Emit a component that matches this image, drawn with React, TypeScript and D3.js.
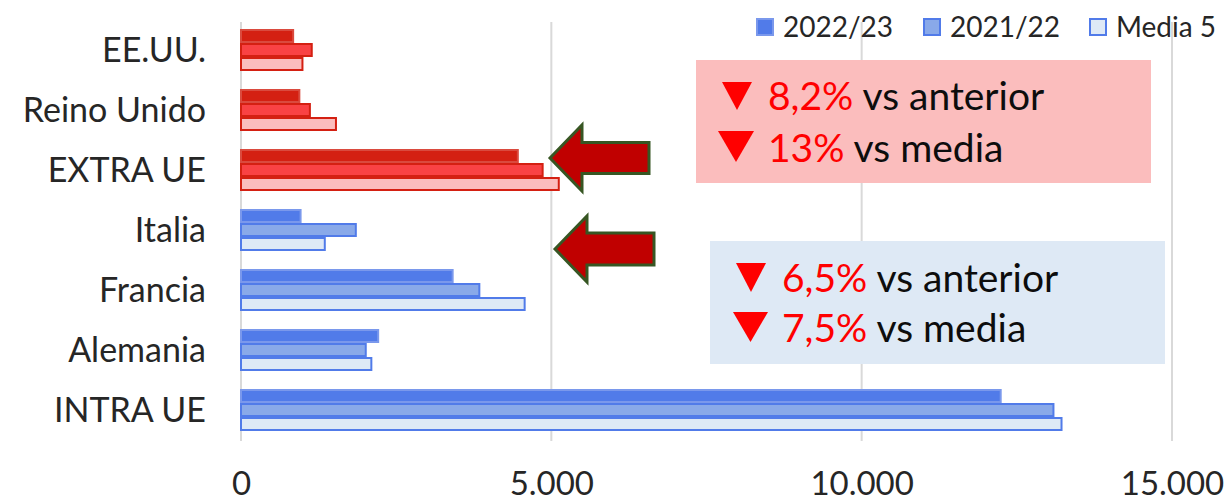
import React, { useRef, useEffect } from "react";
import * as d3 from "d3";

// categories top to bottom
const categories = ["EE.UU.", "Reino Unido", "EXTRA UE", "Italia", "Francia", "Alemania", "INTRA UE"];
const extraUe = ["EE.UU.", "Reino Unido", "EXTRA UE"];

const series = ["2022/23", "2021/22", "Media 5"];
const v2223 = [840, 940, 4460, 960, 3410, 2210, 12240];
const v2122 = [1140, 1110, 4860, 1850, 3840, 2010, 13090];
const media5 = [990, 1530, 5120, 1350, 4570, 2100, 13220];

const xTicks = [0, 5000, 10000, 15000];

const noteExtra = [
  { pct: "8,2%", txt: " vs anterior" },
  { pct: "13%", txt: " vs media" },
];
const noteIntra = [
  { pct: "6,5%", txt: " vs anterior" },
  { pct: "7,5%", txt: " vs media" },
];

const FONT = "Lato, 'Noto Sans', sans-serif";

// fill / stroke per series, red for extra-UE, blue for intra-UE
const redFill = ["#D42012", "#F94244", "#FBBDBD"];
const redStroke = ["#DA4A3E", "#D42012", "#D42012"];
const blueFill = ["#517BE9", "#89A9E9", "#DEE9F6"];
const blueStroke = ["#7A98EC", "#517BE9", "#517BE9"];

const App: React.FC = () => {
  const svgRef = useRef<SVGSVGElement | null>(null);

  const width = 1229;
  const height = 504;

  useEffect(() => {
    if (!svgRef.current) return;
    const svg = d3.select(svgRef.current);
    svg.selectAll("*").remove();

    const x = d3.scaleLinear().domain([0, 15000]).range([241, 1172]);
    const y = d3.scaleBand<string>().domain(categories).range([20, 440]).paddingInner(0.3).paddingOuter(0.15);
    const sub = d3.scaleBand<number>().domain([0, 1, 2]).range([0, y.bandwidth()]);

    const esLocale = d3.formatLocale({ decimal: ",", thousands: ".", grouping: [3], currency: ["", " €"] });
    const fmt = esLocale.format(",.0f");

    // grid
    svg.append("g")
      .selectAll("line")
      .data(xTicks)
      .join("line")
      .attr("x1", (d) => x(d))
      .attr("x2", (d) => x(d))
      .attr("y1", 22)
      .attr("y2", 441)
      .attr("stroke", "#D9D9D9")
      .attr("stroke-width", 2);

    // bars
    const rows = categories.map((c, i) => ({ c, vals: [v2223[i], v2122[i], media5[i]] }));
    const g = svg.append("g");
    rows.forEach((r) => {
      const isRed = extraUe.includes(r.c);
      r.vals.forEach((v, k) => {
        g.append("rect")
          .attr("x", x(0))
          .attr("y", (y(r.c) as number) + (sub(k) as number) + 1)
          .attr("width", x(v) - x(0))
          .attr("height", sub.bandwidth() - 2)
          .attr("fill", isRed ? redFill[k] : blueFill[k])
          .attr("stroke", isRed ? redStroke[k] : blueStroke[k])
          .attr("stroke-width", 2);
      });
    });

    // category labels
    svg.append("g")
      .selectAll("text")
      .data(categories)
      .join("text")
      .attr("x", 206)
      .attr("y", (d) => (y(d) as number) + y.bandwidth() / 2)
      .attr("dy", "0.36em")
      .attr("text-anchor", "end")
      .attr("font-family", FONT)
      .attr("font-size", 34)
      .attr("fill", "#262626")
      .text((d) => d);

    // x axis labels
    const xAxis = d3.axisBottom(x).tickValues(xTicks).tickSize(0).tickPadding(0).tickFormat((d) => fmt(d as number));
    const ax = svg.append("g").attr("transform", "translate(0,495)").call(xAxis);
    ax.select(".domain").remove();
    ax.selectAll("text")
      .attr("font-family", FONT)
      .attr("font-size", 33)
      .attr("fill", "#262626")
      .attr("dy", "0");

    // legend
    const legX = [756, 923, 1089];
    const lg = svg.append("g");
    series.forEach((s, k) => {
      lg.append("rect")
        .attr("x", legX[k] + 1)
        .attr("y", 19)
        .attr("width", 16)
        .attr("height", 16)
        .attr("fill", blueFill[k])
        .attr("stroke", blueStroke[k])
        .attr("stroke-width", 2);
      lg.append("text")
        .attr("x", legX[k] + 27)
        .attr("y", 37)
        .attr("font-family", FONT)
        .attr("font-size", 28)
        .attr("fill", "#262626")
        .text(s);
    });

    // arrows
    const arrow = (tipX: number, tipY: number, headX: number, headH: number, shaftH: number, endX: number) =>
      `M${tipX},${tipY} L${headX},${tipY - headH} L${headX},${tipY - shaftH} L${endX},${tipY - shaftH} ` +
      `L${endX},${tipY + shaftH} L${headX},${tipY + shaftH} L${headX},${tipY + headH} Z`;
    svg.append("path")
      .attr("d", arrow(550, 158, 582, 33, 15.5, 649))
      .attr("fill", "#C00000")
      .attr("stroke", "#375623")
      .attr("stroke-width", 3);
    svg.append("path")
      .attr("d", arrow(555, 249, 587, 33, 16, 654))
      .attr("fill", "#C00000")
      .attr("stroke", "#375623")
      .attr("stroke-width", 3);

    // note boxes
    const drawNote = (
      bx: number, by: number, fill: string,
      lines: { pct: string; txt: string }[],
      tri: { x0: number; x1: number; y0: number; y1: number }[],
      textX: number, baselines: number[]
    ) => {
      svg.append("rect").attr("x", bx).attr("y", by).attr("width", 455).attr("height", 123).attr("fill", fill);
      lines.forEach((l, i) => {
        const t = tri[i];
        svg.append("path")
          .attr("d", `M${t.x0},${t.y0} L${t.x1},${t.y0} L${(t.x0 + t.x1) / 2},${t.y1} Z`)
          .attr("fill", "#FF0000");
        const tx = svg.append("text")
          .attr("x", textX)
          .attr("y", baselines[i])
          .attr("font-family", FONT)
          .attr("font-size", 39);
        tx.append("tspan").attr("fill", "#FF0000").text(l.pct);
        tx.append("tspan").attr("fill", "#0D0D0D").text(l.txt);
      });
    };
    drawNote(696, 60, "#FBBDBD", noteExtra,
      [{ x0: 722, x1: 752, y0: 82, y1: 110 }, { x0: 718, x1: 754, y0: 131, y1: 162 }],
      768, [110, 162]);
    drawNote(710, 241, "#DEE9F5", noteIntra,
      [{ x0: 736, x1: 766, y0: 263, y1: 292 }, { x0: 733, x1: 768, y0: 312, y1: 342 }],
      782, [292, 342]);
  }, []);

  return (
    <svg
      ref={svgRef}
      width={width}
      height={height}
      style={{ display: "block", position: "absolute", left: 0, top: 0, background: "#fff" }}
    />
  );
};

export default App;
